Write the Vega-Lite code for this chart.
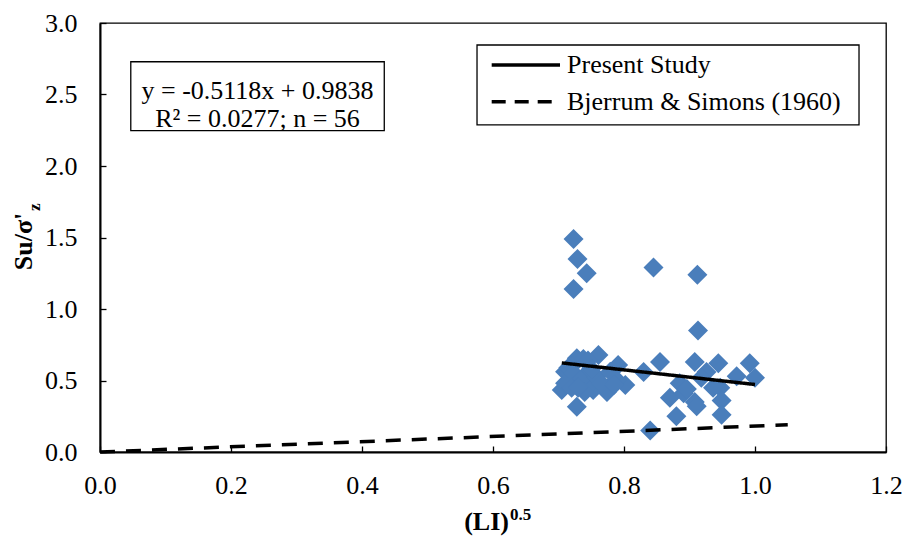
{
  "$schema": "https://vega.github.io/schema/vega-lite/v6.json",
  "width": 786,
  "height": 429,
  "autosize": {"type": "none"},
  "padding": {"left": 100, "top": 23, "right": 19, "bottom": 86},
  "background": "white",
  "config": {
    "font": "Liberation Serif",
    "view": {"stroke": "black", "strokeWidth": 1.3},
    "axis": {
      "grid": false,
      "domainColor": "black",
      "domainWidth": 2,
      "tickColor": "black",
      "tickWidth": 1.3,
      "tickSize": -6,
      "labelFlush": false,
      "labelFont": "Liberation Serif",
      "labelFontSize": 26,
      "labelColor": "black"
    }
  },
  "datasets": {
    "points": [
      {"li": 0.723, "su": 1.49}, {"li": 0.729, "su": 1.35}, {"li": 0.743, "su": 1.25}, {"li": 0.723, "su": 1.14},
      {"li": 0.728, "su": 0.655}, {"li": 0.761, "su": 0.678}, {"li": 0.791, "su": 0.608}, {"li": 0.710, "su": 0.562},
      {"li": 0.705, "su": 0.434}, {"li": 0.728, "su": 0.317}, {"li": 0.753, "su": 0.434}, {"li": 0.774, "su": 0.445},
      {"li": 0.802, "su": 0.469}, {"li": 0.738, "su": 0.527}, {"li": 0.710, "su": 0.480}, {"li": 0.748, "su": 0.470},
      {"li": 0.789, "su": 0.503}, {"li": 0.774, "su": 0.420}, {"li": 0.738, "su": 0.650}, {"li": 0.745, "su": 0.640},
      {"li": 0.720, "su": 0.600}, {"li": 0.715, "su": 0.590}, {"li": 0.723, "su": 0.550}, {"li": 0.733, "su": 0.503},
      {"li": 0.758, "su": 0.527}, {"li": 0.779, "su": 0.562}, {"li": 0.765, "su": 0.480}, {"li": 0.720, "su": 0.450},
      {"li": 0.740, "su": 0.420}, {"li": 0.785, "su": 0.470}, {"li": 0.750, "su": 0.580}, {"li": 0.730, "su": 0.450},
      {"li": 0.845, "su": 1.29}, {"li": 0.912, "su": 1.24}, {"li": 0.913, "su": 0.85}, {"li": 0.855, "su": 0.63},
      {"li": 0.908, "su": 0.63}, {"li": 0.944, "su": 0.62}, {"li": 0.992, "su": 0.62}, {"li": 1.000, "su": 0.52},
      {"li": 0.972, "su": 0.53}, {"li": 0.926, "su": 0.56}, {"li": 0.885, "su": 0.48}, {"li": 0.870, "su": 0.38},
      {"li": 0.908, "su": 0.35}, {"li": 0.947, "su": 0.45}, {"li": 0.949, "su": 0.36}, {"li": 0.880, "su": 0.25},
      {"li": 0.949, "su": 0.26}, {"li": 0.840, "su": 0.15}, {"li": 0.891, "su": 0.41}, {"li": 0.911, "su": 0.32},
      {"li": 0.936, "su": 0.45}, {"li": 0.918, "su": 0.52}, {"li": 0.830, "su": 0.56}, {"li": 0.896, "su": 0.44}
    ],
    "lines": [
      {"series": "Present Study", "li": 0.705, "su": 0.623},
      {"series": "Present Study", "li": 1.0, "su": 0.472},
      {"series": "Bjerrum & Simons (1960)", "li": 0.0, "su": 0.0},
      {"series": "Bjerrum & Simons (1960)", "li": 1.05, "su": 0.19}
    ],
    "one": [{}]
  },
  "layer": [
    {
      "data": {"name": "points"},
      "mark": {"type": "point", "shape": "diamond", "filled": true, "size": 400, "color": "#4A7EBB", "opacity": 1},
      "encoding": {
        "x": {"field": "li", "type": "quantitative", "title": null, "scale": {"domain": [0, 1.2], "nice": false, "zero": false},
              "axis": {"title": null, "values": [0, 0.2, 0.4, 0.6, 0.8, 1.0, 1.2], "format": ".1f", "labelPadding": 26, "labelFlush": false}},
        "y": {"field": "su", "type": "quantitative", "title": null, "scale": {"domain": [0, 3], "nice": false, "zero": false},
              "axis": {"title": null, "values": [0, 0.5, 1.0, 1.5, 2.0, 2.5, 3.0], "format": ".1f", "labelPadding": 29, "labelFlush": false}}
      }
    },
    {
      "data": {"name": "lines"},
      "mark": {"type": "line", "color": "black", "strokeWidth": 3.5},
      "encoding": {
        "x": {"field": "li", "type": "quantitative", "title": null},
        "y": {"field": "su", "type": "quantitative", "title": null},
        "strokeDash": {
          "field": "series", "type": "nominal", "legend": null,
          "scale": {"domain": ["Present Study", "Bjerrum & Simons (1960)"], "range": [[1, 0], [15, 11]]}
        }
      }
    },
    {
      "data": {"name": "one"},
      "mark": {"type": "rect", "fill": "white", "stroke": "black", "strokeWidth": 1.3},
      "encoding": {
        "x": {"datum": 0.047, "type": "quantitative", "title": null},
        "x2": {"datum": 0.434},
        "y": {"datum": 2.729, "type": "quantitative", "title": null},
        "y2": {"datum": 2.247}
      }
    },
    {
      "data": {"name": "one"},
      "mark": {"type": "text", "font": "Liberation Serif", "fontSize": 26, "color": "black", "align": "center", "baseline": "alphabetic"},
      "encoding": {
        "x": {"datum": 0.2405, "type": "quantitative", "title": null},
        "y": {"datum": 2.4685, "type": "quantitative", "title": null},
        "text": {"value": "y = -0.5118x + 0.9838"}
      }
    },
    {
      "data": {"name": "one"},
      "mark": {"type": "text", "font": "Liberation Serif", "fontSize": 26, "color": "black", "align": "center", "baseline": "alphabetic"},
      "encoding": {
        "x": {"datum": 0.2405, "type": "quantitative", "title": null},
        "y": {"datum": 2.2727, "type": "quantitative", "title": null},
        "text": {"value": "R² = 0.0277; n = 56"}
      }
    },
    {
      "data": {"name": "one"},
      "mark": {"type": "rect", "fill": "white", "stroke": "black", "strokeWidth": 1.3},
      "encoding": {
        "x": {"datum": 0.5756, "type": "quantitative", "title": null},
        "x2": {"datum": 1.1588},
        "y": {"datum": 2.846, "type": "quantitative", "title": null},
        "y2": {"datum": 2.287}
      }
    },
    {
      "data": {"name": "one"},
      "mark": {"type": "rule", "color": "black", "strokeWidth": 3.5},
      "encoding": {
        "x": {"datum": 0.598, "type": "quantitative", "title": null},
        "x2": {"datum": 0.7023},
        "y": {"datum": 2.706, "type": "quantitative", "title": null}
      }
    },
    {
      "data": {"name": "one"},
      "mark": {"type": "rule", "color": "black", "strokeWidth": 3.5, "strokeDash": [14, 9]},
      "encoding": {
        "x": {"datum": 0.598, "type": "quantitative", "title": null},
        "x2": {"datum": 0.7023},
        "y": {"datum": 2.4497, "type": "quantitative", "title": null}
      }
    },
    {
      "data": {"name": "one"},
      "mark": {"type": "text", "font": "Liberation Serif", "fontSize": 26, "color": "black", "align": "left", "baseline": "middle"},
      "encoding": {
        "x": {"datum": 0.713, "type": "quantitative", "title": null},
        "y": {"datum": 2.706, "type": "quantitative", "title": null},
        "text": {"value": "Present Study"}
      }
    },
    {
      "data": {"name": "one"},
      "mark": {"type": "text", "font": "Liberation Serif", "fontSize": 26, "color": "black", "align": "left", "baseline": "middle"},
      "encoding": {
        "x": {"datum": 0.713, "type": "quantitative", "title": null},
        "y": {"datum": 2.4497, "type": "quantitative", "title": null},
        "text": {"value": "Bjerrum & Simons (1960)"}
      }
    },
    {
      "data": {"name": "one"},
      "mark": {"type": "text", "font": "Liberation Serif", "fontSize": 26, "fontWeight": "bold", "color": "black", "align": "right", "baseline": "alphabetic"},
      "encoding": {
        "x": {"datum": 0.6244, "type": "quantitative", "title": null},
        "y": {"datum": -0.5455, "type": "quantitative", "title": null},
        "text": {"value": "(LI)"}
      }
    },
    {
      "data": {"name": "one"},
      "mark": {"type": "text", "font": "Liberation Serif", "fontSize": 17, "fontWeight": "bold", "color": "black", "align": "left", "baseline": "alphabetic", "dx": 1},
      "encoding": {
        "x": {"datum": 0.6244, "type": "quantitative", "title": null},
        "y": {"datum": -0.4755, "type": "quantitative", "title": null},
        "text": {"value": "0.5"}
      }
    },
    {
      "data": {"name": "one"},
      "mark": {"type": "text", "font": "Liberation Serif", "fontSize": 26, "fontWeight": "bold", "color": "black", "align": "center", "baseline": "alphabetic", "angle": 270},
      "encoding": {
        "x": {"datum": -0.1038, "type": "quantitative", "title": null},
        "y": {"datum": 1.472, "type": "quantitative", "title": null},
        "text": {"value": "Su/σ'"}
      }
    },
    {
      "data": {"name": "one"},
      "mark": {"type": "text", "font": "Liberation Serif", "fontSize": 17, "fontWeight": "bold", "color": "black", "align": "left", "baseline": "alphabetic", "angle": 270},
      "encoding": {
        "x": {"datum": -0.0916, "type": "quantitative", "title": null},
        "y": {"datum": 1.685, "type": "quantitative", "title": null},
        "text": {"value": "z"}
      }
    }
  ]
}
